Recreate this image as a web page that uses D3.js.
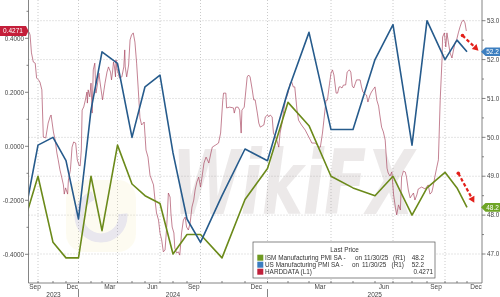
<!DOCTYPE html>
<html><head><meta charset="utf-8">
<script src="https://cdn.jsdelivr.net/npm/d3@7"></script>
<style>body{margin:0;background:#fff}svg{display:block}</style>
</head><body><svg id="c" width="500" height="297"></svg>
<script>
// ---------------- DATA ----------------
const pmiMonths = ["2023-08","2023-09","2023-10","2023-11","2023-12","2024-01","2024-02","2024-03","2024-04","2024-05","2024-06","2024-07","2024-08","2024-09","2024-10","2024-11","2024-12","2025-01","2025-02","2025-03","2025-04","2025-05","2025-06","2025-07","2025-08","2025-09","2025-10","2025-11"];
const ismValues = [47.8,49.0,47.3,46.9,46.9,49.0,47.6,49.8,48.8,48.5,48.3,47.0,47.5,47.5,46.9,48.4,49.2,50.9,50.3,49.0,48.7,48.5,49.0,48.0,48.7,49.1,48.7,48.2];
const usPmiValues = [47.9,49.8,50.0,49.4,47.9,50.7,52.2,51.9,50.0,51.3,51.6,49.6,47.9,47.3,48.5,49.7,49.4,51.2,52.7,50.2,50.2,52.0,52.9,49.8,53.0,52.0,52.5,52.2];
const hardData = [
["2023-09-11",0.423],["2023-09-13",0.412],["2023-09-16",0.346],["2023-09-20",0.312],["2023-09-24",0.308],["2023-09-27",0.253],
["2023-10-01",0.246],["2023-10-04",0.238],["2023-10-08",0.209],["2023-10-11",0.034],["2023-10-16",0.031],["2023-10-21",0.086],["2023-10-25",0.109],["2023-10-27",0.116],
["2023-11-01",0.053],["2023-11-05",0.023],["2023-11-09",-0.025],["2023-11-12",-0.05],["2023-11-16",-0.087],["2023-11-20",-0.114],["2023-11-24",-0.143],["2023-11-26",-0.177],["2023-11-29",-0.154],
["2023-12-04",-0.177],["2023-12-06",-0.125],["2023-12-11",-0.087],["2023-12-15",-0.003],["2023-12-19",0.016],["2023-12-24",0.012],["2023-12-28",-0.05],
["2024-01-01",-0.069],["2024-01-04",-0.073],["2024-01-07",-0.014],["2024-01-09",0.134],["2024-01-13",0.146],["2024-01-17",0.171],["2024-01-21",0.201],["2024-01-22",0.160],["2024-01-24",0.209],["2024-01-28",0.183],["2024-01-31",0.234],
["2024-02-03",0.123],["2024-02-06",0.283],["2024-02-10",0.308],["2024-02-13",0.197],["2024-02-16",0.22],["2024-02-21",0.271],["2024-02-23",0.246],
["2024-03-01",0.172],["2024-03-04",0.209],["2024-03-06",0.234],["2024-03-10",0.275],["2024-03-13",0.294],["2024-03-17",0.275],["2024-03-19",0.246],["2024-03-21",0.275],["2024-03-23",0.312],["2024-03-25",0.294],["2024-03-27",0.257],["2024-03-28",0.32],["2024-03-30",0.283],
["2024-04-01",0.275],["2024-04-04",0.253],["2024-04-09",0.257],["2024-04-13",0.294],["2024-04-15",0.357],["2024-04-16",0.294],["2024-04-19",0.257],["2024-04-23",0.301],["2024-04-26",0.394],["2024-04-29",0.412],
["2024-05-03",0.42],["2024-05-07",0.386],["2024-05-11",0.308],["2024-05-15",0.209],["2024-05-19",0.105],["2024-05-23",0.079],["2024-05-27",0.086],["2024-05-29",0.09],
["2024-06-02",-0.014],["2024-06-06",-0.04],["2024-06-10",-0.107],["2024-06-17",-0.143],["2024-06-20",-0.199],["2024-06-23",-0.247],["2024-06-27",-0.273],["2024-06-30",-0.321],
["2024-07-04",-0.347],["2024-07-08",-0.391],["2024-07-12",-0.384],["2024-07-16",-0.299],["2024-07-20",-0.173],["2024-07-24",-0.188],["2024-07-26",-0.247],["2024-07-29",-0.299],
["2024-08-02",-0.321],["2024-08-04",-0.377],["2024-08-08",-0.395],["2024-08-12",-0.391],["2024-08-15",-0.403],["2024-08-19",-0.321],["2024-08-23",-0.273],["2024-08-27",-0.262],["2024-08-30",-0.299],
["2024-09-03",-0.31],["2024-09-07",-0.284],["2024-09-11",-0.225],["2024-09-15",-0.199],["2024-09-18",-0.162],["2024-09-22",-0.132],["2024-09-26",-0.114],["2024-09-30",-0.151],
["2024-10-03",-0.099],["2024-10-05",-0.062],["2024-10-08",-0.04],["2024-10-10",-0.05],["2024-10-12",-0.062],["2024-10-15",-0.025],["2024-10-17",-0.003],["2024-10-22",0.005],["2024-10-26",0.012],["2024-10-29",0.049],
["2024-11-01",0.171],["2024-11-02",0.197],["2024-11-05",0.197],["2024-11-06",0.142],["2024-11-10",0.145],["2024-11-15",0.142],["2024-11-16",0.123],["2024-11-18",0.145],["2024-11-21",0.145],["2024-11-23",0.134],["2024-11-25",0.049],["2024-11-26",0.134],["2024-11-29",0.145],
["2024-12-03",0.257],["2024-12-05",0.264],["2024-12-07",0.257],["2024-12-10",0.209],["2024-12-12",0.172],["2024-12-14",0.172],["2024-12-17",0.123],["2024-12-19",0.086],["2024-12-21",0.071],["2024-12-26",0.079],["2024-12-28",0.109],["2024-12-31",0.116],
["2025-01-02",0.109],["2025-01-04",0.116],["2025-01-07",0.109],["2025-01-09",0.049],["2025-01-14",0.023],["2025-01-17",-0.003],["2025-01-19",0.049],["2025-01-22",0.086],["2025-01-24",0.123],["2025-01-27",0.171],["2025-01-29",0.183],["2025-01-31",0.197],
["2025-02-03",0.234],["2025-02-05",0.238],["2025-02-07",0.22],["2025-02-09",0.22],["2025-02-12",0.134],["2025-02-14",0.097],["2025-02-18",0.079],["2025-02-23",0.06],["2025-02-25",0.049],
["2025-03-02",0.023],["2025-03-04",0.012],["2025-03-09",0.012],["2025-03-14",-0.003],["2025-03-16",-0.003],["2025-03-19",0.049],["2025-03-21",0.097],["2025-03-24",0.171],["2025-03-26",0.171],["2025-03-29",0.234],["2025-03-31",0.271],
["2025-04-02",0.283],["2025-04-04",0.264],["2025-04-07",0.197],["2025-04-09",0.197],["2025-04-11",0.22],["2025-04-13",0.22],["2025-04-15",0.216],["2025-04-17",0.227],["2025-04-20",0.227],["2025-04-22",0.275],["2025-04-25",0.283],["2025-04-27",0.275],["2025-04-29",0.223],
["2025-05-01",0.216],["2025-05-03",0.231],["2025-05-05",0.246],["2025-05-10",0.246],["2025-05-12",0.22],["2025-05-14",0.201],["2025-05-19",0.19],["2025-05-21",0.164],["2025-05-24",0.19],["2025-05-26",0.201],["2025-05-28",0.209],["2025-05-31",0.22],
["2025-06-03",0.171],["2025-06-06",0.149],["2025-06-08",0.116],["2025-06-11",0.071],["2025-06-14",0.053],["2025-06-17",0.023],["2025-06-20",-0.081],["2025-06-22",-0.099],["2025-06-25",-0.11],["2025-06-28",-0.095],
["2025-07-01",-0.18],["2025-07-04",-0.228],["2025-07-06",-0.254],["2025-07-09",-0.217],["2025-07-12",-0.236],["2025-07-14",-0.114],["2025-07-17",-0.092],["2025-07-20",-0.095],["2025-07-22",-0.114],["2025-07-25",-0.162],["2025-07-28",-0.191],["2025-07-30",-0.184],
["2025-08-03",-0.173],["2025-08-06",-0.199],["2025-08-10",-0.18],["2025-08-13",-0.158],["2025-08-20",-0.151],["2025-08-27",-0.158],
["2025-09-02",-0.143],["2025-09-05",-0.177],["2025-09-08",-0.17],["2025-09-10",-0.151],["2025-09-13",-0.114],["2025-09-16",-0.081],["2025-09-19",-0.05],["2025-09-22",0.171],["2025-09-25",0.32],["2025-09-26",0.405],["2025-09-29",0.42],
["2025-10-02",0.368],["2025-10-05",0.42],["2025-10-09",0.383],["2025-10-13",0.346],["2025-10-18",0.327],["2025-10-22",0.357],["2025-10-26",0.383],["2025-10-30",0.394],
["2025-11-04",0.42],["2025-11-09",0.442],["2025-11-14",0.46],["2025-11-19",0.468],["2025-11-24",0.457],["2025-11-28",0.4271]
];
const leftTicks = [0.4,0.2,0,-0.2,-0.4];
const leftMinorTicks = [0.5,0.3,0.1,-0.1,-0.3];
const rightTicks = [47,48,49,50,51,52,53];
const monthLabels = [["2023-09","Sep"],["2023-12","Dec"],["2024-03","Mar"],["2024-06","Jun"],["2024-09","Sep"],["2024-12","Dec"],["2025-03","Mar"],["2025-06","Jun"],["2025-09","Sep"],["2025-12","Dec"]];
const yearLabels = ["2023","2024","2025"];
const legendRows = [
  {name:"ISM Manufacturing PMI SA -", on:"on", date:"11/30/25", axis:"(R1)", last:"48.2", key:"ism"},
  {name:"US Manufacturing PMI SA -", on:"on", date:"11/30/25", axis:"(R1)", last:"52.2", key:"us"},
  {name:"HARDDATA  (L1)", on:"", date:"", axis:"", last:"0.4271", key:"hard"}
];

// ---------------- LAYOUT ----------------
const L = 28.5, R = 482, T = 0, B = 283;
const colors = {ism:"#6b8a1a", us:"#265b8c", hard:"#a8455f"};
const swatch = {ism:"#6f9a22", us:"#3b7dc0", hard:"#c0203a"};
// irregular (observation-indexed) time axis: month-end knots -> pixel
const knotDates = d3.timeMonths(new Date(2023,7,1), new Date(2026,0,1))
  .map(d => d3.timeDay.offset(d3.timeMonth.offset(d,1),-1));
const knotX = [24,38,53,66,78.5, 91,102,117.5,132,145,160,173,187,200.5,222,245,267.5, 288,309,331,353,375,393,412,427,445,457,467,485];

const x = d3.scaleTime().domain(knotDates).range(knotX);
const yL = d3.scaleLinear().domain([-0.4,0.4]).range([254.3,38.3]);
const yR = d3.scaleLinear().domain([47,53]).range([254,20.7]);

const pm = d3.timeParse("%Y-%m"), pd = d3.timeParse("%Y-%m-%d");
const monthEnd = m => d3.timeDay.offset(d3.timeMonth.offset(pm(m),1),-1);
const pmiDates = pmiMonths.map(monthEnd);

const svg = d3.select("#c");
const font = "'Liberation Sans', Arial, sans-serif";
svg.append("rect").attr("width",500).attr("height",297).attr("fill","#fff");
svg.append("defs").append("clipPath").attr("id","clip")
  .append("rect").attr("x",L).attr("y",T).attr("width",R-L).attr("height",B-T);

// gridlines
const grid = svg.append("g").attr("stroke","#bdbdbd").attr("stroke-width",0.8).attr("stroke-dasharray","1,2");
grid.selectAll("line.h").data(rightTicks).join("line")
  .attr("x1",L).attr("x2",R).attr("y1",d=>yR(d)).attr("y2",d=>yR(d));
const quarterEnds = knotDates.filter(d => [2,5,8,11].includes(d.getMonth()) && x(d) > L && x(d) < R);
grid.selectAll("line.v").data(quarterEnds).join("line")
  .attr("x1",d=>x(d)).attr("x2",d=>x(d)).attr("y1",T).attr("y2",B);

// watermark
const wm = svg.append("g").attr("opacity",0.22);
wm.append("rect").attr("x",66).attr("y",180).attr("width",70).attr("height",72).attr("rx",18).attr("fill","#f2e79a").attr("opacity",0.6);
wm.append("circle").attr("cx",101).attr("cy",216).attr("r",22).attr("fill","none").attr("stroke","#9a90b0").attr("stroke-width",9).attr("stroke-dasharray","95,40");
wm.append("text").attr("transform","translate(172,214) scale(1,1.45)").attr("font-family","'DejaVu Sans', sans-serif")
  .attr("font-weight","bold").attr("font-style","italic").attr("font-size",62)
  .attr("fill","#a89c9c").text("WikiFX");

// series
const plot = svg.append("g").attr("clip-path","url(#clip)");
plot.append("path").datum(hardData)
  .attr("d", d3.line().x(d=>x(pd(d[0]))).y(d=>yL(d[1])))
  .attr("fill","none").attr("stroke",colors.hard).attr("stroke-width",0.8).attr("stroke-opacity",0.85);
plot.append("path").datum(ismValues)
  .attr("d", d3.line().x((d,i)=>x(pmiDates[i])).y(d=>yR(d)))
  .attr("fill","none").attr("stroke",colors.ism).attr("stroke-width",1.6).attr("stroke-linejoin","round");
plot.append("path").datum(usPmiValues)
  .attr("d", d3.line().x((d,i)=>x(pmiDates[i])).y(d=>yR(d)))
  .attr("fill","none").attr("stroke",colors.us).attr("stroke-width",1.6).attr("stroke-linejoin","round");

// axes lines
const ax = svg.append("g").attr("stroke","#666").attr("stroke-width",0.8);
ax.append("line").attr("x1",L).attr("x2",L).attr("y1",T).attr("y2",B);
ax.append("line").attr("x1",R).attr("x2",R).attr("y1",T).attr("y2",B);
ax.append("line").attr("x1",L).attr("x2",R).attr("y1",B).attr("y2",B);
ax.selectAll("line.lt").data(leftTicks).join("line").attr("x1",L-3.5).attr("x2",L).attr("y1",d=>yL(d)).attr("y2",d=>yL(d));
ax.selectAll("line.lm").data(leftMinorTicks).join("line").attr("x1",L-2).attr("x2",L).attr("y1",d=>yL(d)).attr("y2",d=>yL(d));
ax.selectAll("line.rt").data(rightTicks).join("line").attr("x1",R).attr("x2",R+3.5).attr("y1",d=>yR(d)).attr("y2",d=>yR(d));
ax.selectAll("line.rm").data(rightTicks.slice(0,-1).map(d=>d+0.5)).join("line").attr("x1",R).attr("x2",R+2).attr("y1",d=>yR(d)).attr("y2",d=>yR(d));
ax.selectAll("line.mt").data(knotDates.filter(d=>x(d)>L && x(d)<R)).join("line")
  .attr("x1",d=>x(d)).attr("x2",d=>x(d)).attr("y1",B-2).attr("y2",B);
const yearEnds = knotDates.filter(d=>d.getMonth()===11 && x(d)>L && x(d)<R);
ax.selectAll("line.ys").data(yearEnds).join("line")
  .attr("x1",d=>x(d)).attr("x2",d=>x(d)).attr("y1",289).attr("y2",297);

// axis labels
const lab = svg.append("g").attr("font-family",font).attr("fill","#444");
lab.selectAll("text.l").data(leftTicks).join("text")
  .attr("x",L-4.5).attr("y",d=>yL(d)+2.2).attr("text-anchor","end").attr("font-size",6.3)
  .text(d=>d3.format(".4f")(d).replace("−","-"));
lab.selectAll("text.r").data(rightTicks).join("text")
  .attr("x",R+5).attr("y",d=>yR(d)+2.2).attr("font-size",6.3).text(d=>d3.format(".1f")(d));
lab.selectAll("text.m").data(monthLabels).join("text")
  .attr("x",d=>{const s=pm(d[0]); const c=(x(d3.timeDay.offset(s,-1))+x(d3.timeDay.offset(d3.timeMonth.offset(s,1),-1)))/2; return Math.max(c, L+6.5);})
  .attr("y",288.6).attr("text-anchor","middle").attr("font-size",6.5).text(d=>d[1]);
lab.selectAll("text.y").data(yearLabels).join("text")
  .attr("x",d=>{const a=Math.max(L,x(new Date(+d-1,11,31))); const b=Math.min(R,x(new Date(+d,11,31))); return (a+b)/2;})
  .attr("y",296.6).attr("text-anchor","middle").attr("font-size",6.5).text(d=>d);

// legend
const lg = svg.append("g").attr("font-family",font).attr("font-size",6.4).attr("fill","#333");
lg.append("rect").attr("x",253).attr("y",242).attr("width",182).attr("height",36)
  .attr("fill","#fff").attr("stroke","#555").attr("stroke-width",0.7);
lg.append("text").attr("x",344.5).attr("y",252.3).attr("text-anchor","middle").text("Last Price");
legendRows.forEach((r,i)=>{
  const yy = 257.7 + i*7;
  lg.append("rect").attr("x",257.3).attr("y",yy-3).attr("width",6).attr("height",6).attr("fill",swatch[r.key]);
  lg.append("text").attr("x",265).attr("y",yy+2.3).text(r.name);
  if(r.on){
    lg.append("text").attr("x",i===0?355:352).attr("y",yy+2.3).text(r.on);
    lg.append("text").attr("x",i===0?364:362).attr("y",yy+2.3).text(r.date);
    lg.append("text").attr("x",i===0?393:391.5).attr("y",yy+2.3).text(r.axis);
    lg.append("text").attr("x",411.7).attr("y",yy+2.3).text(r.last);
  } else {
    lg.append("text").attr("x",433).attr("y",yy+2.3).attr("text-anchor","end").text(r.last);
  }
});

// last-value tags
const lastIsm = ismValues[ismValues.length-1], lastUs = usPmiValues[usPmiValues.length-1], lastHard = hardData[hardData.length-1][1];
function rightTag(v, fill){
  const yy = yR(v);
  svg.append("path").attr("d",`M${R-1},${yy} L${R+3.5},${yy-4.3} L500,${yy-4.3} L500,${yy+4.3} L${R+3.5},${yy+4.3} Z`).attr("fill",fill);
  svg.append("text").attr("x",492.5).attr("y",yy+2.3).attr("text-anchor","middle").attr("font-family",font)
    .attr("font-size",6.5).attr("fill","#fff").text(d3.format(".1f")(v));
}
rightTag(lastUs, "#3d7fc0");
rightTag(lastIsm, "#6fa526");
const hy = yL(lastHard);
svg.append("path").attr("d",`M0,${hy-5} L26,${hy-5} L28.5,${hy} L26,${hy+5} L0,${hy+5} Z`).attr("fill","#c41e3a");
svg.append("text").attr("x",13).attr("y",hy+2.3).attr("text-anchor","middle").attr("font-family",font)
  .attr("font-size",6.5).attr("fill","#fff").text(d3.format(".4f")(lastHard));

// red dashed annotation arrows
function arrow(x1,y1,x2,y2){
  const g = svg.append("g");
  const ang = Math.atan2(y2-y1,x2-x1), len = 6;
  const bx = x2 - len*Math.cos(ang), by = y2 - len*Math.sin(ang);
  g.append("circle").attr("cx",x1).attr("cy",y1).attr("r",1.8).attr("fill","#e3201b");
  g.append("line").attr("x1",x1).attr("y1",y1).attr("x2",bx).attr("y2",by)
    .attr("stroke","#e3201b").attr("stroke-width",2.2).attr("stroke-dasharray","3.5,2.2");
  const px = -Math.sin(ang)*3.4, py = Math.cos(ang)*3.4;
  g.append("path").attr("d",`M${x2},${y2} L${bx+px},${by+py} L${bx-px},${by-py} Z`).attr("fill","#e3201b");
}
arrow(462.5,35.5,478.5,50.7);
arrow(458.3,173.3,474.3,202.7);
</script></body></html>
